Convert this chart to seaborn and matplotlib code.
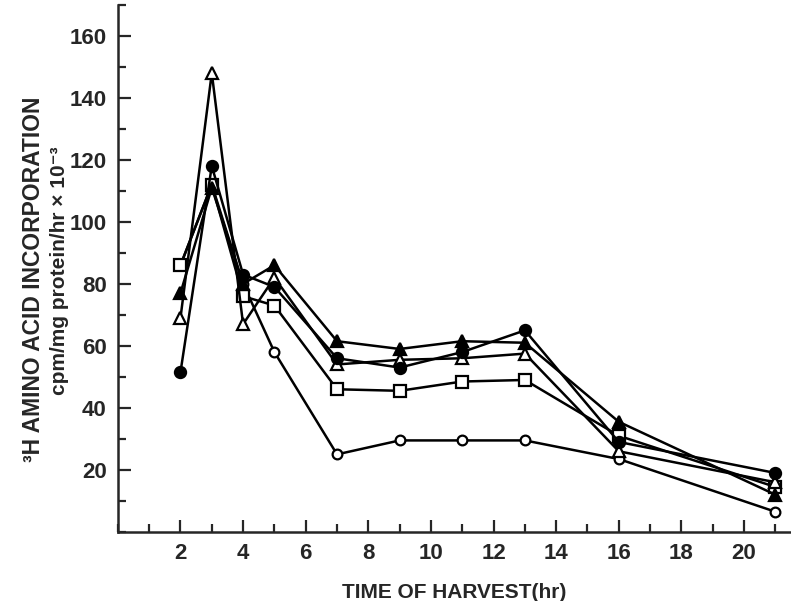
import matplotlib
matplotlib.use('Agg')
import matplotlib.pyplot as plt
import seaborn as sns
from matplotlib.ticker import MultipleLocator

# time of harvest (hr)
hours = [2, 3, 4, 5, 7, 9, 11, 13, 16, 21]

# 3H amino acid incorporation, cpm/mg protein/hr x 10^-3
open_circle = [86, 112, 80, 58, 25, 29.5, 29.5, 29.5, 23.5, 6.5]
filled_circle = [51.5, 118, 83, 79, 56, 53, 58, 65, 29, 19]
open_triangle = [69, 148, 67, 82, 54, 55.5, 56, 57.5, 26, 16]
filled_triangle = [77, 111, 80, 86, 61.5, 59, 61.5, 61, 35.5, 12]
open_square = [86, 112, 76, 73, 46, 45.5, 48.5, 49, 31, 14.5]

sns.set_style("ticks")
plt.rcParams['font.family'] = ['Liberation Sans', 'DejaVu Sans']
plt.rcParams['font.weight'] = 'bold'

fig = plt.figure(figsize=(7.91, 6.01), dpi=100)
ax = fig.add_axes([0.149, 0.115, 0.851, 0.877])

series = [
    (open_circle, 'o', 'white', 7),
    (open_square, 's', 'white', 9),
    (open_triangle, '^', 'white', 9),
    (filled_triangle, '^', 'black', 9),
    (filled_circle, 'o', 'black', 8),
]
for vals, mk, fc, ms in series:
    sns.lineplot(x=hours, y=vals, ax=ax, color='black', linewidth=1.8,
                 marker=mk, markerfacecolor=fc, markeredgecolor='black',
                 markeredgewidth=1.6, markersize=ms)

ax.set_xlim(0, 21.5)
ax.set_ylim(0, 170)
ax.xaxis.set_major_locator(MultipleLocator(2))
ax.xaxis.set_minor_locator(MultipleLocator(1))
ax.yaxis.set_major_locator(MultipleLocator(20))
ax.yaxis.set_minor_locator(MultipleLocator(10))
ax.set_xticks(range(2, 21, 2))
ax.set_yticks(range(20, 161, 20))
ax.tick_params(which='both', direction='in', width=1.6, labelsize=16, pad=8)
ax.tick_params(which='major', length=9)
ax.tick_params(which='minor', length=6)
for lab in ax.get_xticklabels() + ax.get_yticklabels():
    lab.set_fontweight('bold')

for side in ['top', 'right']:
    ax.spines[side].set_visible(False)
for side in ['left', 'bottom']:
    ax.spines[side].set_linewidth(1.8)

ax.set_xlabel('TIME OF HARVEST(hr)', fontsize=15, fontweight='bold', labelpad=14)
ax.set_ylabel('')
fig.text(0.042, 0.535, '³H AMINO ACID INCORPORATION', rotation=90,
         ha='center', va='center', fontsize=16.5, fontweight='bold')
fig.text(0.075, 0.55, 'cpm/mg protein/hr × 10⁻³', rotation=90,
         ha='center', va='center', fontsize=15, fontweight='bold')

fig.savefig('out.png', dpi=100)
